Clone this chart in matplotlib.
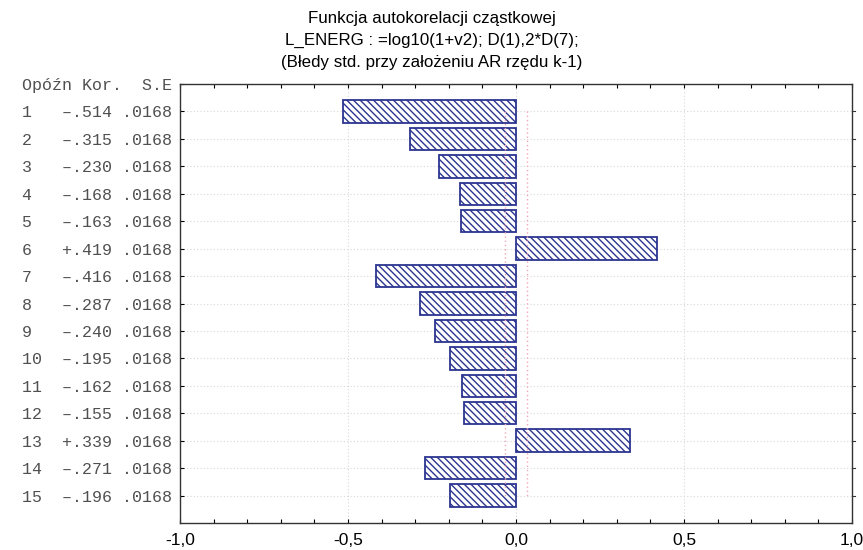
import matplotlib
matplotlib.use("Agg")
import matplotlib.pyplot as plt
import numpy as np

lags = list(range(1, 16))
pacf = [-0.514, -0.315, -0.230, -0.168, -0.163, 0.419, -0.416, -0.287,
        -0.240, -0.195, -0.162, -0.155, 0.339, -0.271, -0.196]
se = [0.0168] * 15
title_lines = ["Funkcja autokorelacji cząstkowej",
               "L_ENERG : =log10(1+v2); D(1),2*D(7);",
               "(Błedy std. przy założeniu AR rzędu k-1)"]
header = "Opóźn Kor.  S.E"
xticks = [-1.0, -0.5, 0.0, 0.5, 1.0]
xticklabels = ["-1,0", "-0,5", "0,0", "0,5", "1,0"]

navy = "#2b3590"
plt.rcParams["hatch.linewidth"] = 1.0
plt.rcParams["hatch.color"] = navy

fig = plt.figure(figsize=(8.63, 5.5), dpi=100)
ax = fig.add_axes([180/863, 1-523/550, 672/863, (523-84)/550])

ax.barh(lags, pacf, height=0.82, color="white", edgecolor=navy,
        linewidth=1.3, hatch="\\\\\\\\\\", zorder=3)

# +/- 2 standard errors
lim = [2*s for s in se]
ax.plot(lim, lags, color="#f4a6b6", lw=1, ls=(0, (1, 2)), zorder=4)
ax.plot([-v for v in lim], lags, color="#f4a6b6", lw=1, ls=(0, (1, 2)), zorder=4)

ax.set_xlim(-1, 1)
ax.set_ylim(16, 0)

ax.set_xticks(xticks)
ax.set_xticklabels(xticklabels, family="Liberation Sans", fontsize=12.5)
ax.set_xticks(np.arange(-1, 1.01, 0.1), minor=True)

ylabels = [header]
for lag, v, s in zip(lags, pacf, se):
    sign = "+" if v > 0 else "–"
    ylabels.append(f"{lag:<4}" + sign + f"{abs(v):.3f}"[1:] + " " + f"{s:.4f}"[1:])
ax.set_yticks([0] + lags)
ax.set_yticklabels(ylabels, family="Liberation Mono", fontsize=12, color="#505050")

ax.tick_params(axis="x", which="both", direction="in", top=True, bottom=True,
               length=3, width=0.8, pad=7)
ax.tick_params(axis="y", direction="in", left=True, right=False, length=3, width=0.8, pad=6)
for lag in lags:
    ax.plot([1.0, 1.008], [lag, lag], color="#333333", lw=0.8, clip_on=False)

ax.grid(True, which="major", color="#d8d8d8", ls=(0, (1, 2)), lw=0.8, zorder=0)
for sp in ax.spines.values():
    sp.set_color("#333333")
    sp.set_linewidth(1.0)

for i, line in enumerate(title_lines):
    fig.text(0.5, 1-(18+22*i)/550, line, ha="center", va="center",
             family="Liberation Sans", fontsize=12.2)

fig.savefig("out.png", dpi=100)
